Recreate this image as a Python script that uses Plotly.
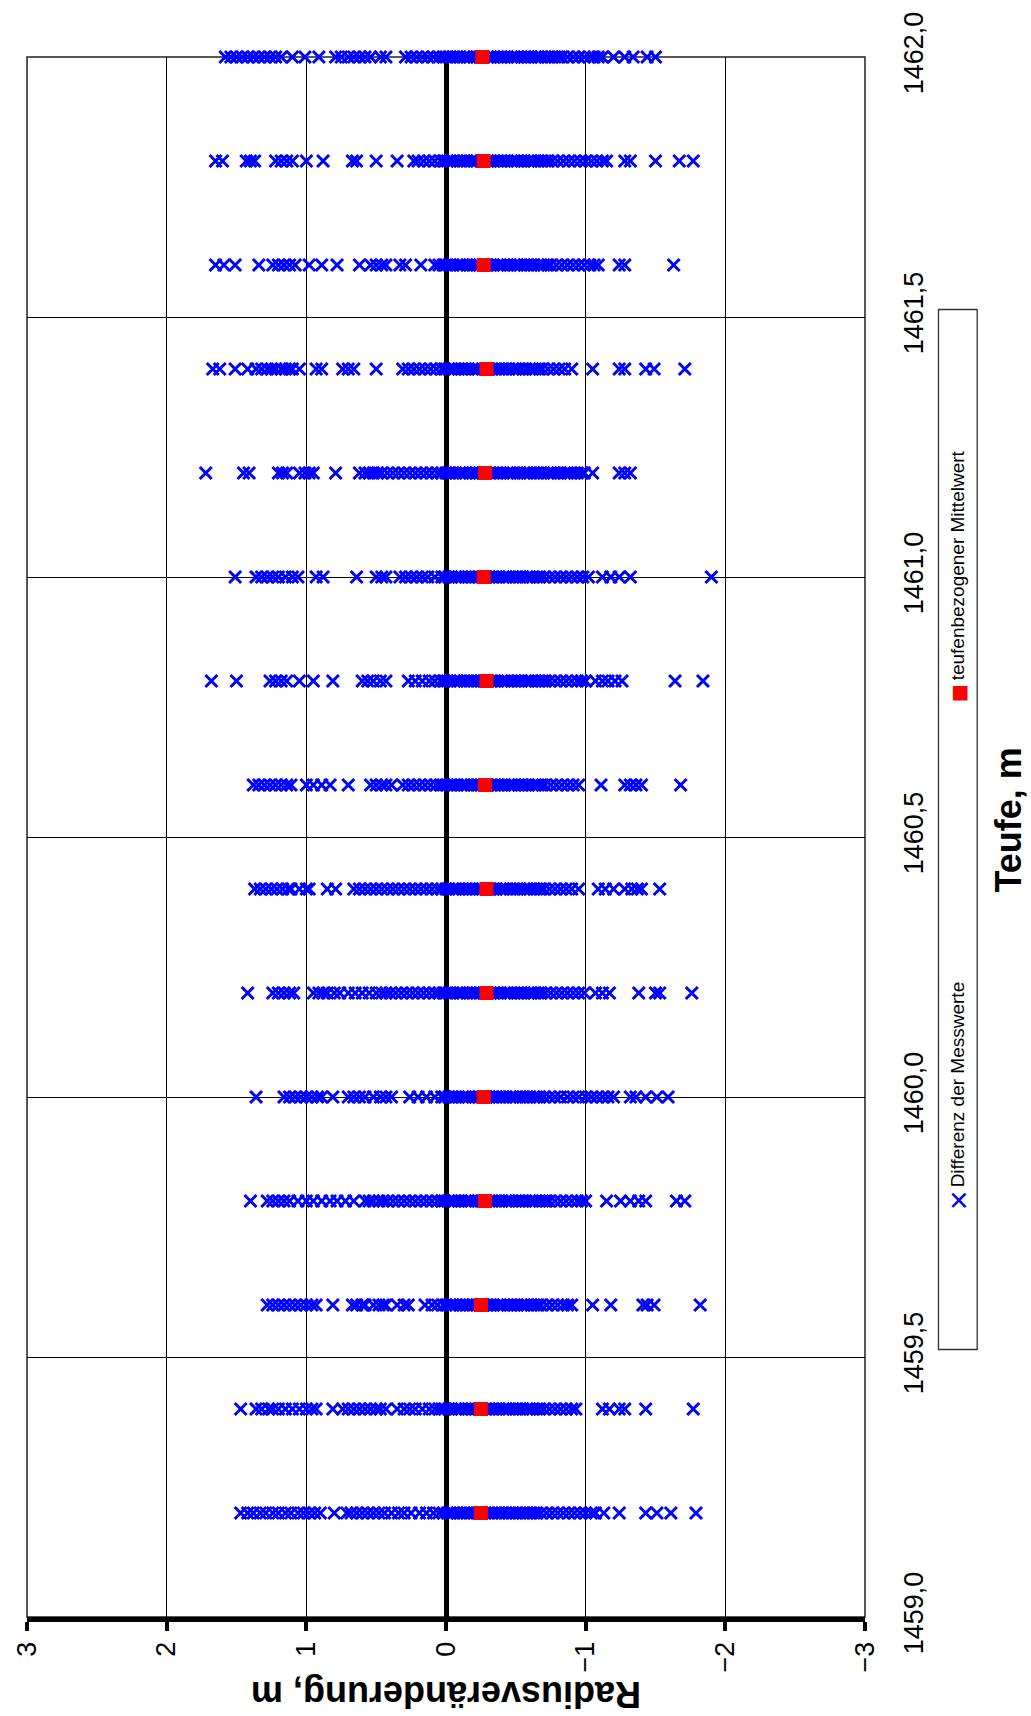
import plotly.graph_objects as go

# ---------------- data ----------------
depths = [1459.2, 1459.4, 1459.6, 1459.8, 1460.0, 1460.2, 1460.4, 1460.6,
          1460.8, 1461.0, 1461.2, 1461.4, 1461.6, 1461.8, 1462.0]

mean_values = [-0.25, -0.25, -0.25, -0.28, -0.27, -0.29, -0.29, -0.28,
               -0.29, -0.27, -0.28, -0.29, -0.27, -0.27, -0.26]

r1459_2 = [1.47, 1.42, 1.38, 1.33, 1.29, 1.24, 1.20, 1.15, 1.11, 1.06, 1.02, 0.98, 0.94, 0.90,
           0.80, 0.71, 0.68, 0.64, 0.60, 0.56, 0.52, 0.48, 0.44, 0.39, 0.34, 0.30, 0.25,
           0.19, 0.14, 0.09, 0.05,
           0.02, -0.01, -0.03, -0.05, -0.08, -0.10, -0.13, -0.15, -0.18, -0.20, -0.23, -0.25,
           -0.28, -0.30, -0.33, -0.35, -0.38, -0.40, -0.43, -0.45, -0.48, -0.50, -0.53, -0.55,
           -0.58, -0.60, -0.63, -0.65, -0.68,
           -0.72, -0.76, -0.80, -0.84, -0.88, -0.92, -0.96, -1.00, -1.04, -1.07,
           -1.13, -1.24, -1.43, -1.51, -1.61, -1.79]
r1459_4 = [1.47, 1.36, 1.32, 1.27, 1.24, 1.20, 1.15, 1.10, 1.05, 1.00, 0.96, 0.93, 0.81,
           0.74, 0.70, 0.66, 0.62, 0.58, 0.54, 0.50, 0.47, 0.43, 0.35, 0.30, 0.26, 0.22,
           0.17, 0.12, 0.08, 0.05,
           0.03, 0.01, -0.02, -0.04, -0.07, -0.09, -0.11, -0.14, -0.16, -0.19, -0.21, -0.24,
           -0.26, -0.28, -0.31, -0.33, -0.36, -0.38, -0.41, -0.43, -0.45, -0.48, -0.50, -0.53,
           -0.55, -0.58, -0.60, -0.62, -0.65, -0.67, -0.70,
           -0.74, -0.78, -0.82, -0.86, -0.90, -0.93,
           -1.12, -1.17, -1.24, -1.28, -1.43, -1.77]
r1459_6 = [1.28, 1.24, 1.20, 1.16, 1.12, 1.08, 1.04, 1.00, 0.96, 0.93, 0.81, 0.67, 0.64,
           0.60, 0.58, 0.52, 0.48, 0.45, 0.43, 0.35, 0.30, 0.27, 0.15, 0.10, 0.06,
           0.02, 0.00, -0.03, -0.05, -0.07, -0.10, -0.12, -0.15, -0.17, -0.20, -0.22, -0.24,
           -0.27, -0.29, -0.32, -0.34, -0.37, -0.39, -0.41, -0.44, -0.46, -0.49, -0.51, -0.54,
           -0.56, -0.58, -0.61, -0.63, -0.66, -0.68,
           -0.72, -0.76, -0.80, -0.84, -0.87, -0.90,
           -1.05, -1.18, -1.41, -1.44, -1.49, -1.82]
r1459_8 = [1.40, 1.28, 1.24, 1.20, 1.16, 1.12, 1.06, 1.00, 0.95, 0.89, 0.83, 0.78, 0.72,
           0.66, 0.58, 0.55, 0.52, 0.48, 0.45, 0.42, 0.38, 0.34, 0.30, 0.26, 0.22, 0.18,
           0.14, 0.10, 0.06,
           0.03, 0.01, -0.02, -0.04, -0.06, -0.09, -0.11, -0.14, -0.16, -0.18, -0.21, -0.23,
           -0.26, -0.28, -0.31, -0.33, -0.35, -0.38, -0.40, -0.43, -0.45, -0.47, -0.50, -0.52,
           -0.55, -0.57, -0.60, -0.62, -0.64, -0.67, -0.69, -0.72, -0.74,
           -0.78, -0.82, -0.86, -0.90, -0.94, -0.97, -1.00,
           -1.15, -1.25, -1.32, -1.38, -1.43, -1.65, -1.71]
r1460_0 = [1.36, 1.16, 1.12, 1.08, 1.04, 1.00, 0.96, 0.92, 0.89, 0.81, 0.70, 0.66, 0.62,
           0.58, 0.52, 0.47, 0.43, 0.39, 0.26, 0.20, 0.14, 0.08,
           0.03, 0.01, -0.02, -0.04, -0.07, -0.09, -0.12, -0.14, -0.16, -0.19, -0.21, -0.24,
           -0.26, -0.29, -0.31, -0.33, -0.36, -0.38, -0.41, -0.43, -0.46, -0.48, -0.50, -0.53,
           -0.55, -0.58, -0.60, -0.63, -0.65, -0.67, -0.70,
           -0.74, -0.78, -0.82, -0.87, -0.91, -0.95, -1.00, -1.04, -1.08, -1.12, -1.16, -1.20,
           -1.32, -1.36, -1.43, -1.51, -1.59]
r1460_2 = [1.42, 1.24, 1.20, 1.16, 1.12, 1.09, 0.95, 0.91, 0.88, 0.85, 0.80, 0.76, 0.70,
           0.65, 0.60, 0.55, 0.50, 0.46, 0.43, 0.40, 0.36, 0.32, 0.28, 0.24, 0.20, 0.16,
           0.12, 0.08, 0.05,
           0.02, 0.00, -0.03, -0.05, -0.08, -0.10, -0.12, -0.15, -0.17, -0.20, -0.22, -0.25,
           -0.27, -0.29, -0.32, -0.34, -0.37, -0.39, -0.42, -0.44, -0.46, -0.49, -0.51, -0.54,
           -0.56, -0.59, -0.61, -0.63, -0.66, -0.68, -0.71,
           -0.75, -0.79, -0.83, -0.87, -0.91, -0.95, -0.99,
           -1.07, -1.12, -1.17, -1.38, -1.50, -1.53, -1.76]
r1460_4 = [1.37, 1.33, 1.29, 1.25, 1.21, 1.17, 1.13, 1.11, 1.05, 1.00, 0.98, 0.85, 0.79,
           0.66, 0.62, 0.58, 0.54, 0.50, 0.46, 0.42, 0.38, 0.34, 0.30, 0.26, 0.22, 0.18,
           0.14, 0.10, 0.06,
           0.03, 0.00, -0.02, -0.05, -0.07, -0.09, -0.12, -0.14, -0.17, -0.19, -0.22, -0.24,
           -0.26, -0.29, -0.31, -0.34, -0.36, -0.39, -0.41, -0.43, -0.46, -0.48, -0.51, -0.53,
           -0.56, -0.58, -0.60, -0.63, -0.65, -0.68, -0.70,
           -0.74, -0.78, -0.82, -0.86, -0.90, -0.95,
           -1.09, -1.14, -1.20, -1.28, -1.33, -1.37, -1.40, -1.53]
r1460_6 = [1.38, 1.34, 1.30, 1.26, 1.22, 1.18, 1.14, 1.11, 1.00, 0.95, 0.89, 0.83, 0.70,
           0.54, 0.50, 0.46, 0.43, 0.39, 0.31, 0.27, 0.23, 0.19, 0.15, 0.11, 0.07, 0.04,
           0.02, -0.01, -0.03, -0.06, -0.08, -0.11, -0.13, -0.15, -0.18, -0.20, -0.23, -0.25,
           -0.28, -0.30, -0.32, -0.35, -0.37, -0.40, -0.42, -0.45, -0.47, -0.49, -0.52, -0.54,
           -0.57, -0.59, -0.62, -0.64, -0.66, -0.69, -0.71,
           -0.75, -0.79, -0.83, -0.87, -0.91, -0.95,
           -1.11, -1.28, -1.32, -1.36, -1.40, -1.68]
r1460_8 = [1.68, 1.50, 1.26, 1.22, 1.18, 1.14, 1.05, 0.95, 0.81, 0.60, 0.56, 0.52, 0.47,
           0.43, 0.27, 0.22, 0.17, 0.12, 0.08,
           0.04, 0.02, -0.01, -0.03, -0.06, -0.08, -0.10, -0.13, -0.15, -0.18, -0.20, -0.23,
           -0.25, -0.27, -0.30, -0.32, -0.35, -0.37, -0.40, -0.42, -0.44, -0.47, -0.49, -0.52,
           -0.54, -0.57, -0.59, -0.61, -0.64, -0.66, -0.69, -0.71, -0.74,
           -0.78, -0.82, -0.86, -0.90, -0.94, -0.97, -1.00,
           -1.07, -1.12, -1.16, -1.21, -1.26, -1.64, -1.84]
r1461_0 = [1.51, 1.36, 1.32, 1.28, 1.24, 1.20, 1.15, 1.10, 1.06, 0.93, 0.88, 0.64, 0.50,
           0.46, 0.43, 0.33, 0.29, 0.25, 0.21, 0.17, 0.13, 0.08,
           0.03, 0.01, -0.02, -0.04, -0.07, -0.09, -0.11, -0.14, -0.16, -0.19, -0.21, -0.24,
           -0.26, -0.28, -0.31, -0.33, -0.36, -0.38, -0.41, -0.43, -0.45, -0.48, -0.50, -0.53,
           -0.55, -0.58, -0.60, -0.62, -0.65, -0.67, -0.70,
           -0.74, -0.78, -0.82, -0.86, -0.90, -0.94, -0.98,
           -1.02, -1.12, -1.18, -1.24, -1.32, -1.90]
r1461_2 = [1.72, 1.45, 1.41, 1.20, 1.17, 1.14, 1.05, 1.01, 0.98, 0.95, 0.79, 0.62, 0.58,
           0.55, 0.52, 0.49, 0.46, 0.42, 0.38, 0.34, 0.30, 0.26, 0.22, 0.18, 0.14, 0.10, 0.06,
           0.03, 0.00, -0.02, -0.05, -0.07, -0.10, -0.12, -0.14, -0.17, -0.19, -0.22, -0.24,
           -0.27, -0.29, -0.31, -0.34, -0.36, -0.39, -0.41, -0.44, -0.46, -0.48, -0.51, -0.53,
           -0.56, -0.58, -0.60, -0.63, -0.65, -0.68, -0.70, -0.73, -0.75, -0.77, -0.80, -0.82,
           -0.85, -0.87, -0.89, -0.92, -0.94, -0.97, -0.99,
           -1.05, -1.24, -1.28, -1.32]
r1461_4 = [1.67, 1.62, 1.51, 1.42, 1.36, 1.32, 1.28, 1.25, 1.22, 1.18, 1.15, 1.12, 1.10,
           1.05, 0.93, 0.89, 0.74, 0.70, 0.66, 0.50, 0.31, 0.27, 0.23, 0.19, 0.15, 0.11, 0.07,
           0.03, 0.01, -0.02, -0.04, -0.06, -0.09, -0.11, -0.14, -0.16, -0.19, -0.21, -0.23,
           -0.26, -0.28, -0.31, -0.33, -0.35, -0.38, -0.40, -0.43, -0.45, -0.48, -0.50, -0.52,
           -0.55, -0.57, -0.60, -0.62, -0.64, -0.67, -0.69,
           -0.73, -0.77, -0.81, -0.85, -0.90,
           -1.05, -1.24, -1.28, -1.43, -1.49, -1.71]
r1461_6 = [1.65, 1.59, 1.51, 1.34, 1.24, 1.20, 1.16, 1.12, 1.08, 0.98, 0.89, 0.78, 0.62,
           0.54, 0.50, 0.46, 0.43, 0.33, 0.29, 0.18, 0.08, 0.05,
           0.02, 0.00, -0.03, -0.05, -0.08, -0.10, -0.12, -0.15, -0.17, -0.20, -0.22, -0.24,
           -0.27, -0.29, -0.32, -0.34, -0.37, -0.39, -0.41, -0.44, -0.46, -0.49, -0.51, -0.53,
           -0.56, -0.58, -0.61, -0.63, -0.66, -0.68, -0.70, -0.73, -0.75,
           -0.79, -0.83, -0.87, -0.91, -0.95, -0.99, -1.03, -1.06, -1.09,
           -1.24, -1.28, -1.63]
r1461_8 = [1.65, 1.60, 1.43, 1.40, 1.37, 1.22, 1.18, 1.14, 1.10, 1.00, 0.88, 0.67, 0.64,
           0.50, 0.35, 0.23, 0.20, 0.16, 0.12, 0.08,
           0.04, 0.02, -0.01, -0.03, -0.05, -0.08, -0.10, -0.13, -0.15, -0.18, -0.20, -0.22,
           -0.25, -0.27, -0.30, -0.32, -0.34, -0.37, -0.39, -0.42, -0.44, -0.47, -0.49, -0.51,
           -0.54, -0.56, -0.59, -0.61, -0.63, -0.66, -0.68, -0.71, -0.73, -0.76,
           -0.80, -0.84, -0.88, -0.92, -0.96, -1.00, -1.04, -1.08, -1.12, -1.15,
           -1.28, -1.32, -1.50, -1.67, -1.77]
r1462_0 = [1.58, 1.54, 1.50, 1.46, 1.42, 1.38, 1.34, 1.30, 1.26, 1.22, 1.18, 1.10, 1.01,
           0.91, 0.79, 0.75, 0.70, 0.66, 0.62, 0.58, 0.54, 0.47, 0.43, 0.29, 0.25, 0.21,
           0.17, 0.13, 0.09, 0.05,
           0.02, 0.00, -0.03, -0.05, -0.08, -0.10, -0.13, -0.15, -0.17, -0.20, -0.22, -0.25,
           -0.27, -0.30, -0.32, -0.34, -0.37, -0.39, -0.42, -0.44, -0.47, -0.49, -0.51, -0.54,
           -0.56, -0.59, -0.61, -0.64, -0.66, -0.68, -0.71, -0.73, -0.76, -0.78, -0.81, -0.83,
           -0.87, -0.91, -0.95, -0.99, -1.03, -1.06, -1.09,
           -1.12, -1.20, -1.28, -1.34, -1.44, -1.50]

rows = [r1459_2, r1459_4, r1459_6, r1459_8, r1460_0, r1460_2, r1460_4, r1460_6,
        r1460_8, r1461_0, r1461_2, r1461_4, r1461_6, r1461_8, r1462_0]

x_ticks = [3, 2, 1, 0, -1, -2, -3]
y_ticks = [1459.0, 1459.5, 1460.0, 1460.5, 1461.0, 1461.5, 1462.0]

series_names = ["Differenz der Messwerte", "teufenbezogener Mittelwert"]
x_title = "Radiusveränderung, m"
y_title = "Teufe, m"

# ---------------- figure ----------------
FONT = "Arial, 'Liberation Sans', sans-serif"

meas_x, meas_y = [], []
for d, vals in zip(depths, rows):
    meas_x.extend(vals)
    meas_y.extend([d] * len(vals))

fig = go.Figure()
fig.add_trace(go.Scatter(
    x=meas_x, y=meas_y, mode="markers", name=series_names[0],
    marker=dict(symbol="x-thin", size=12, color="#0000FF",
                line=dict(width=3, color="#0000FF")),
    cliponaxis=False, showlegend=False))
fig.add_trace(go.Scatter(
    x=mean_values, y=depths, mode="markers", name=series_names[1],
    marker=dict(symbol="square", size=14, color="#FF0000", line=dict(width=0)),
    cliponaxis=False, showlegend=False))

L, R, T, B = 21, 166, 54, 99
W, H = 1031, 1716
pw, ph = W - L - R, H - T - B

def px_x(p):
    return (p - L) / pw

def px_y(p):
    return (H - B - p) / ph

fig.update_layout(
    width=W, height=H,
    margin=dict(l=L, r=R, t=T, b=B, pad=0),
    paper_bgcolor="white", plot_bgcolor="white",
    separators=", ",
    font=dict(family=FONT, color="black", size=27),
    showlegend=False,
    xaxis=dict(
        range=[3, -3], tickvals=x_ticks, tickangle=-90,
        showgrid=True, gridcolor="black", gridwidth=1,
        zeroline=True, zerolinecolor="black", zerolinewidth=5,
        showline=True, linecolor="black", linewidth=5,
        ticks="outside", ticklen=9, tickwidth=4, tickcolor="black",
        tickfont=dict(size=27, family=FONT),
    ),
    yaxis=dict(
        range=[1459, 1462], tickvals=y_ticks, tickformat=".1f",
        side="right", tickangle=-90,
        showgrid=True, gridcolor="black", gridwidth=1,
        zeroline=False, showline=False, ticks="",
        ticklabelstandoff=30,
        tickfont=dict(size=27, family=FONT),
    ),
    shapes=[
        dict(type="rect", xref="paper", yref="paper", x0=0, x1=1, y0=0, y1=1,
             line=dict(color="#222222", width=1.5), layer="below"),
        dict(type="rect", xref="paper", yref="paper",
             x0=px_x(939), x1=px_x(978), y0=px_y(1349), y1=px_y(307),
             line=dict(color="#333333", width=1.3), fillcolor="white"),
    ],
    annotations=[
        dict(text="<b>" + x_title + "</b>", xref="paper", yref="paper",
             x=px_x(443), y=px_y(1694), textangle=180, showarrow=False,
             font=dict(size=36, family=FONT), xanchor="center", yanchor="middle"),
        dict(text="<b>" + y_title + "</b>", xref="paper", yref="paper",
             x=px_x(1010), y=px_y(818), textangle=-90, showarrow=False,
             font=dict(size=36, family=FONT), xanchor="center", yanchor="middle"),
        # legend entries (rotated)
        dict(text="×", xref="paper", yref="paper",
             x=px_x(958), y=px_y(1199), textangle=-90, showarrow=False,
             font=dict(size=34, family=FONT, color="#0000FF"),
             xanchor="center", yanchor="middle"),
        dict(text=series_names[0], xref="paper", yref="paper",
             x=px_x(958), y=px_y(1083), textangle=-90, showarrow=False,
             font=dict(size=19, family=FONT), xanchor="center", yanchor="middle"),
        dict(text="■", xref="paper", yref="paper",
             x=px_x(958), y=px_y(691), textangle=-90, showarrow=False,
             font=dict(size=19, family="DejaVu Sans", color="#FF0000"),
             xanchor="center", yanchor="middle"),
        dict(text=series_names[1], xref="paper", yref="paper",
             x=px_x(958), y=px_y(563), textangle=-90, showarrow=False,
             font=dict(size=19, family=FONT), xanchor="center", yanchor="middle"),
    ],
)

fig.write_html("out.html")
